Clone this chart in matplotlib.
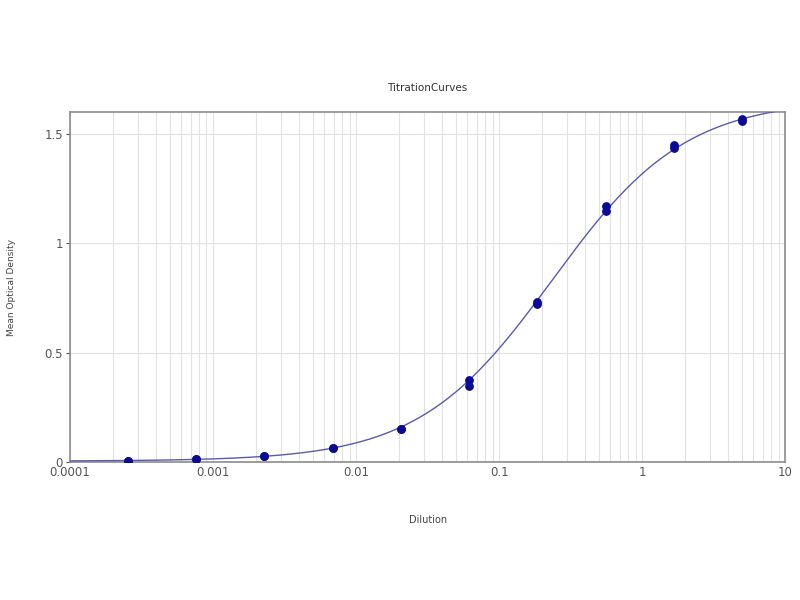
# Titration curve, 4PL fit over dilution series

import numpy as np
import matplotlib.pyplot as plt
from matplotlib.ticker import LogLocator, FixedLocator, NullFormatter

dilution = [5.0, 5.0, 1.667, 1.667, 0.5556, 0.5556, 0.1852, 0.1852,
            0.06173, 0.06173, 0.02058, 0.02058, 0.006859, 0.006859,
            0.002286, 0.002286, 0.000762, 0.000762, 0.000254, 0.000254]
mean_od = [1.568, 1.559, 1.449, 1.436, 1.171, 1.148, 0.732, 0.722,
           0.375, 0.348, 0.151, 0.150, 0.064, 0.062,
           0.027, 0.026, 0.014, 0.013, 0.006, 0.005]

# fitted 4PL parameters (bottom, top, ec50, hill)
fit_bottom = 0.004
fit_top = 1.66
fit_ec50 = 0.235
fit_hill = 0.93

x_ticks = [0.0001, 0.001, 0.01, 0.1, 1, 10]
x_ticklabels = ['0.0001', '0.001', '0.01', '0.1', '1', '10']
y_ticks = [0, 0.5, 1, 1.5]
y_ticklabels = ['0', '0.5', '1', '1.5']


def four_pl(x):
    return fit_bottom + (fit_top - fit_bottom) / (1 + (fit_ec50 / x) ** fit_hill)


fig = plt.figure(figsize=(8, 6), dpi=100)
ax = fig.add_axes([0.0875, 0.23, 0.894, 0.583])

xs = np.logspace(-4, 1, 400)
ax.plot(xs, four_pl(xs), color='#5a5ab4', lw=1.0, zorder=3)
ax.scatter(dilution, mean_od, s=28, color='#0a0a96', zorder=4)

ax.set_xscale('log')
ax.set_xlim(0.0001, 10)
ax.set_ylim(0, 1.6)
ax.xaxis.set_major_locator(FixedLocator(x_ticks))
ax.set_xticklabels(x_ticklabels)
ax.xaxis.set_minor_locator(LogLocator(base=10, subs=np.arange(2, 10)))
ax.xaxis.set_minor_formatter(NullFormatter())
ax.set_yticks(y_ticks)
ax.set_yticklabels(y_ticklabels)

ax.grid(True, which='both', axis='x', color='#e2e2e2', lw=0.8)
ax.grid(True, which='major', axis='y', color='#e2e2e2', lw=0.8)
ax.set_axisbelow(True)

for s in ax.spines.values():
    s.set_color('#8c8c8c')
    s.set_linewidth(1.2)

ax.tick_params(axis='both', which='major', labelsize=8.5, colors='#555555',
               length=3, width=0.8)
ax.tick_params(axis='x', which='minor', length=0)
ax.tick_params(axis='x', which='major', length=0, pad=3)
ax.tick_params(axis='y', which='major', pad=2)

ax.set_title('TitrationCurves', fontsize=7.5, color='#333333', pad=15)
ax.set_xlabel('Dilution', fontsize=7, color='#444444')
ax.xaxis.set_label_coords(0.5, -0.151)
ax.set_ylabel('Mean Optical Density', fontsize=6.5, color='#444444')
ax.yaxis.set_label_coords(-0.076, 0.5)

plt.savefig('out.png', dpi=100)
